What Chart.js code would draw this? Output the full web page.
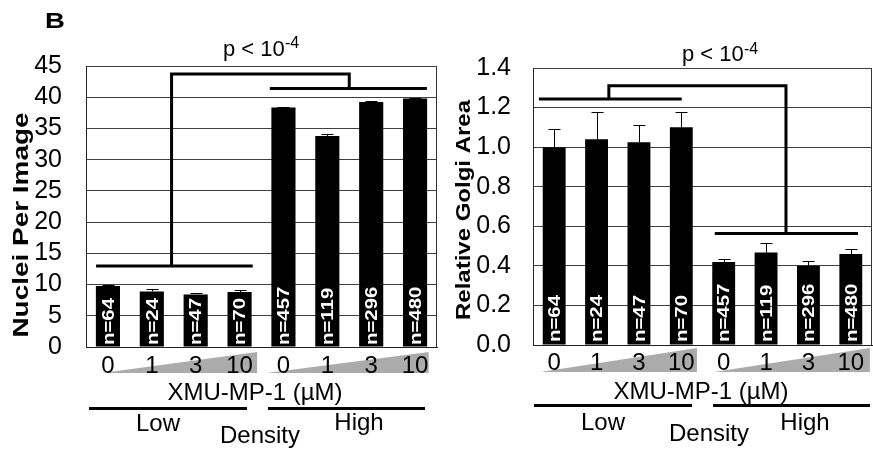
<!DOCTYPE html>
<html><head><meta charset="utf-8">
<script src="https://cdn.jsdelivr.net/npm/chart.js@4"></script>
<style>
html,body{margin:0;padding:0;background:#fff;width:873px;height:451px;overflow:hidden}
canvas{position:absolute;top:0}
#c1{left:0}
#c2{left:437px}
</style></head><body>
<canvas id="c1" width="440" height="451"></canvas>
<canvas id="c2" width="436" height="451"></canvas>
<script>
// ---- data ----
const doseLabels = ['0', '1', '3', '10', '0', '1', '3', '10'];
const nLabels = ['n=64', 'n=24', 'n=47', 'n=70', 'n=457', 'n=119', 'n=296', 'n=480'];
const nucleiValues = [9.76, 8.9, 8.4, 8.8, 38.35, 33.8, 39.25, 39.8];
const nucleiErrors = [0.2, 0.37, 0.26, 0.27, 0.16, 0.3, 0.15, 0.15];
const golgiValues = [1.0, 1.04, 1.025, 1.10, 0.42, 0.467, 0.40, 0.46];
const golgiErrors = [0.09, 0.14, 0.085, 0.08, 0.017, 0.046, 0.024, 0.025];
const nucleiTickStep = 5;
const golgiTickStep = 0.2;
// significance brackets (x in category units, y in data units)
const nucleiLowBracket = [{x: -0.27, y: 12.96}, {x: 3.30, y: 12.96}];
const nucleiLinkBracket = [{x: 1.45, y: 12.96}, {x: 1.45, y: 43.7}, {x: 5.5, y: 43.7}, {x: 5.5, y: 41.4}];
const nucleiHighBracket = [{x: 3.69, y: 41.4}, {x: 7.27, y: 41.4}];
const golgiLowBracket = [{x: -0.36, y: 1.243}, {x: 3.01, y: 1.243}];
const golgiLinkBracket = [{x: 1.29, y: 1.243}, {x: 1.29, y: 1.31}, {x: 5.47, y: 1.31}, {x: 5.47, y: 0.564}];
const golgiHighBracket = [{x: 3.79, y: 0.564}, {x: 7.17, y: 0.564}];

const FONT = "'Liberation Sans', Arial, sans-serif";

function txt(ctx, s, x, y, size, opt) {
  opt = opt || {};
  ctx.save();
  ctx.translate(x, y);
  if (opt.rot) ctx.rotate(opt.rot);
  if (opt.sx) ctx.scale(opt.sx, 1);
  ctx.font = (opt.bold ? 'bold ' : '') + size + 'px ' + FONT;
  ctx.fillStyle = opt.color || '#000';
  ctx.textAlign = opt.align || 'center';
  ctx.textBaseline = opt.base || 'middle';
  ctx.fillText(s, 0, 0);
  ctx.restore();
}

function makeChart(id, cfg) {
  const decorPlugin = {
    id: 'decor' + id,
    beforeDraw(chart) {
      const ctx = chart.ctx, xb = chart.scales.xb, ca = chart.chartArea;
      ctx.save();
      ctx.fillStyle = '#ababab';
      cfg.wedges.forEach(w => {
        const x0 = xb.getPixelForValue(w[0]), x1 = xb.getPixelForValue(w[1]);
        ctx.beginPath();
        ctx.moveTo(x0, ca.bottom + cfg.wedgeBase);
        ctx.lineTo(x1, ca.bottom + cfg.wedgeTop);
        ctx.lineTo(x1, ca.bottom + cfg.wedgeBase);
        ctx.closePath();
        ctx.fill();
      });
      ctx.restore();
    },
    beforeDatasetsDraw(chart) {
      const ctx = chart.ctx, ca = chart.chartArea;
      ctx.save();
      ctx.strokeStyle = '#333';
      ctx.lineWidth = 1;
      ctx.beginPath();
      ctx.moveTo(Math.round(ca.right) - 0.5, ca.top);
      ctx.lineTo(Math.round(ca.right) - 0.5, ca.bottom);
      ctx.stroke();
      ctx.restore();
    },
    afterDatasetsDraw(chart) {
      const ctx = chart.ctx, y = chart.scales.y, ca = chart.chartArea;
      const meta = chart.getDatasetMeta(0);
      ctx.save();
      ctx.strokeStyle = '#000';
      ctx.lineWidth = 1;
      meta.data.forEach((bar, i) => {
        const top = y.getPixelForValue(cfg.values[i]);
        const et = y.getPixelForValue(cfg.values[i] + cfg.errors[i]);
        const x = Math.round(bar.x) + 0.5;
        ctx.beginPath();
        ctx.moveTo(x, top);
        ctx.lineTo(x, Math.round(et) + 0.5);
        ctx.moveTo(x - cfg.cap, Math.round(et) + 0.5);
        ctx.lineTo(x + cfg.cap, Math.round(et) + 0.5);
        ctx.stroke();
        txt(ctx, nLabels[i], bar.x + 1, ca.bottom - cfg.nGap, 17,
            {rot: -Math.PI / 2, sx: 1.2, bold: true, color: '#fff', align: 'left'});
      });
      ctx.restore();
    },
    afterDraw(chart) {
      cfg.extra(chart.ctx, chart);
    }
  };

  const lineDs = cfg.brackets.map(b => ({
    type: 'line', data: b, xAxisID: 'xb', yAxisID: 'y',
    borderColor: '#000', borderWidth: 3, pointRadius: 0, fill: false,
    tension: 0, borderJoinStyle: 'miter', borderCapStyle: 'butt', order: 0
  }));

  return new Chart(document.getElementById(id), {
    type: 'bar',
    data: {
      labels: doseLabels,
      datasets: [{
        type: 'bar', data: cfg.values, backgroundColor: '#000', borderWidth: 0, grouped: false,
        barPercentage: cfg.barPct, categoryPercentage: 1, xAxisID: 'x', yAxisID: 'y', order: 1
      }].concat(lineDs)
    },
    options: {
      responsive: false, animation: false, devicePixelRatio: 1,
      layout: {padding: {top: cfg.top, right: cfg.right, left: 0, bottom: 0}},
      plugins: {legend: {display: false}, tooltip: {enabled: false}},
      scales: {
        x: {
          type: 'category', offset: true,
          grid: {display: false, drawTicks: false},
          border: {display: true, color: '#222', width: 1},
          ticks: {font: {family: FONT, size: 24}, color: '#000', padding: cfg.xPad, maxRotation: 0, autoSkip: false},
          afterFit: s => { s.height = cfg.xHeight; }
        },
        xb: {type: 'linear', display: false, offset: false, bounds: 'data', min: -0.5, max: 7.5,
             grid: {offset: false}, ticks: {stepSize: 1}},
        y: {
          min: 0, max: cfg.max,
          grid: {color: '#404040', lineWidth: 1, drawTicks: false},
          border: {display: true, color: '#222', width: 1},
          ticks: {stepSize: cfg.step, autoSkip: false, font: {family: FONT, size: 25}, color: '#000', padding: cfg.yPad,
                  callback: cfg.tickFmt},
          afterFit: s => { s.width = cfg.yWidth; }
        }
      }
    },
    plugins: [decorPlugin]
  });
}

makeChart('c1', {
  values: nucleiValues, errors: nucleiErrors, max: 45, step: nucleiTickStep,
  tickFmt: v => String(v),
  brackets: [nucleiLowBracket, nucleiLinkBracket, nucleiHighBracket],
  top: 66, right: 3, xHeight: 451 - 347, yWidth: 86, yPad: 24, xPad: 5, barPct: 0.55,
  cap: 6, nGap: 2,
  wedges: [[-0.136, 3.40], [3.62, 7.31]], wedgeTop: 5, wedgeBase: 26,
  extra(ctx) {
    txt(ctx, 'B', 55, 22, 22, {bold: true, sx: 1.25});
    txt(ctx, 'p < 10', 223, 50, 22, {align: 'left'});
    txt(ctx, '-4', 285, 44, 16, {align: 'left'});
    txt(ctx, 'Nuclei Per Image', 22, 225, 22, {rot: -Math.PI / 2, sx: 1.27, bold: true});
    txt(ctx, 'XMU-MP-1 (\u00b5M)', 255, 393, 24);
    ctx.fillStyle = '#000';
    ctx.fillRect(89, 407, 158, 3);
    ctx.fillRect(268, 407, 157, 3);
    txt(ctx, 'Low', 158, 424, 24);
    txt(ctx, 'High', 359, 423, 24);
    txt(ctx, 'Density', 260, 436, 24);
  }
});

makeChart('c2', {
  values: golgiValues, errors: golgiErrors, max: 1.4, step: golgiTickStep,
  tickFmt: v => v.toFixed(1),
  brackets: [golgiLowBracket, golgiLinkBracket, golgiHighBracket],
  top: 68, right: 1, xHeight: 451 - 345, yWidth: 96, yPad: 22, xPad: 4, barPct: 0.54,
  cap: 6, nGap: 3,
  wedges: [[-0.33, 3.37], [3.77, 7.45]], wedgeTop: 3, wedgeBase: 27,
  extra(ctx) {
    txt(ctx, 'p < 10', 245, 55, 22, {align: 'left'});
    txt(ctx, '-4', 307, 50, 16, {align: 'left'});
    txt(ctx, 'Relative Golgi Area', 27, 210, 20, {rot: -Math.PI / 2, sx: 1.2, bold: true});
    txt(ctx, 'XMU-MP-1 (\u00b5M)', 264, 392, 24);
    ctx.fillStyle = '#000';
    ctx.fillRect(97, 404, 158, 3);
    ctx.fillRect(276, 404, 157, 3);
    txt(ctx, 'Low', 166, 423, 24);
    txt(ctx, 'High', 368, 423, 24);
    txt(ctx, 'Density', 272, 434, 24);
  }
});
</script>
</body></html>
